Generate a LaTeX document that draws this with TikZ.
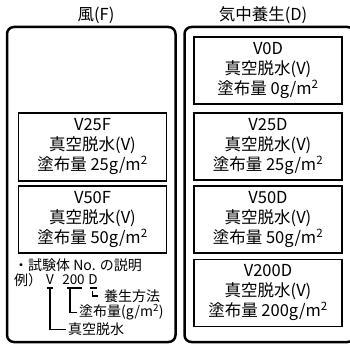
\documentclass[tikz,border=0pt]{standalone}
\usepackage{fontspec}
\setmainfont{Noto Sans CJK JP}
\begin{document}
\begin{tikzpicture}[x=1pt,y=-1pt,
  outerbox/.style={draw, line width=2.5pt, rounded corners=7pt, inner sep=0pt},
  sample/.style={draw, line width=1.2pt, minimum width=148pt, minimum height=67pt,
    align=center, inner sep=0pt, font=\fontsize{16.5}{20}\selectfont},
  title/.style={inner sep=0pt, font=\fontsize{16.5}{20}\selectfont},
  note/.style={inner sep=0pt, anchor=west, font=\fontsize{14}{16}\selectfont},
  code/.style={inner sep=0pt, font=\fontsize{13.5}{16}\selectfont},
  lead/.style={line width=1.3pt}]
\useasboundingbox (0,0) rectangle (350,345);
\clip (0,0) rectangle (350,345);
% titles
\node[title] (tF) at (96,15) {風(F)};
\node[title] (tD) at (263,15) {気中養生(D)};
% outer boxes
\node[outerbox, minimum width=168.5pt, minimum height=315pt] (boxF) at (91.25,184.5) {};
\node[outerbox, minimum width=170pt, minimum height=315pt] (boxD) at (269.5,184.5) {};
% samples left
\node[sample, minimum height=68pt] (V25F) at (92.5,147) {V25F\\真空脱水(V)\\塗布量 25g/m\textsuperscript{2}};
\node[sample] (V50F) at (92.5,219.5) {V50F\\真空脱水(V)\\塗布量 50g/m\textsuperscript{2}};
% samples right
\node[sample] (V0D) at (268,70.5) {V0D\\真空脱水(V)\\塗布量 0g/m\textsuperscript{2}};
\node[sample] (V25D) at (268,146.5) {V25D\\真空脱水(V)\\塗布量 25g/m\textsuperscript{2}};
\node[sample] (V50D) at (268,219.5) {V50D\\真空脱水(V)\\塗布量 50g/m\textsuperscript{2}};
\node[sample] (V200D) at (268,293) {V200D\\真空脱水(V)\\塗布量 200g/m\textsuperscript{2}};
% legend
\node[note] (nTitle) at (14,265) {・試験体 No. の説明};
\node[note] (nEx) at (14,280.5) {例）};
\node[code] (cV) at (50,280) {V};
\node[code] (c200) at (73.5,280) {200};
\node[code] (cD) at (93,280) {D};
\draw[lead] (47,288) -- (53,288);
\draw[lead] (66.5,288) -- (81.5,288);
\draw[lead] (89.5,288) -- (96.5,288);
\coordinate (uV) at (50,288);
\coordinate (u200) at (70,288);
\coordinate (uD) at (92.3,290.5);
\node[note] (lD) at (104,296) {養生方法};
\node[note] (l200) at (79,312.5) {塗布量(g/m\textsuperscript{2})};
\node[note] (lV) at (68,329.5) {真空脱水};
\draw[lead] (uD) |- ([xshift=-6pt]lD.west);
\draw[lead] (u200) |- ([xshift=-2pt]l200.west);
\draw[lead] (uV) |- ([xshift=-2pt]lV.west);
\end{tikzpicture}
\end{document}
